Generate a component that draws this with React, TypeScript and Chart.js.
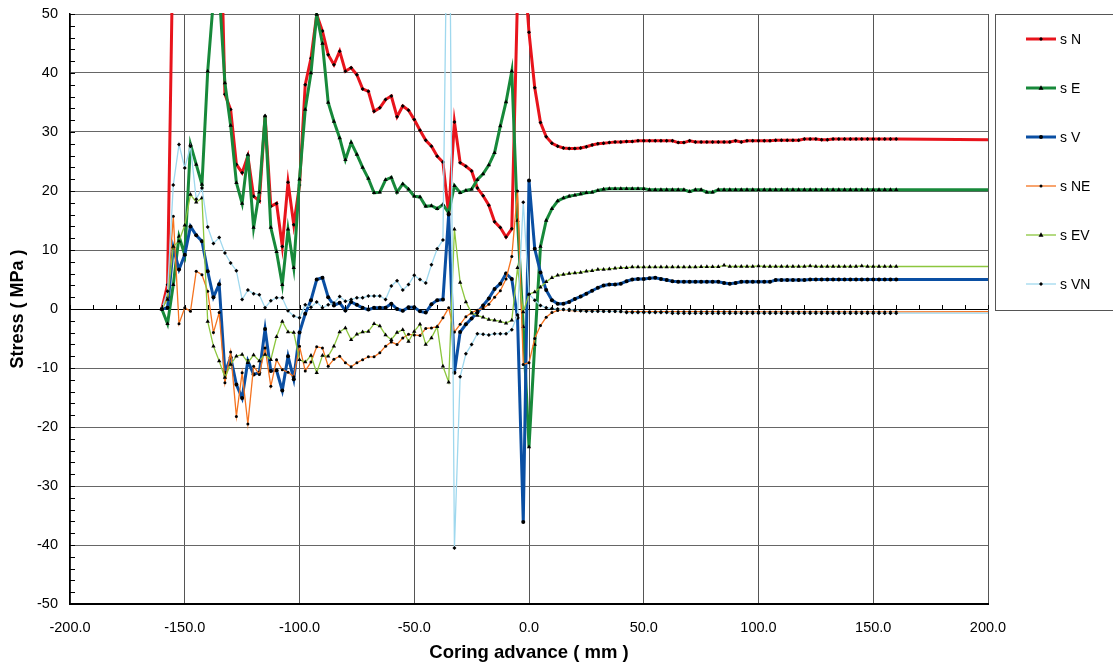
import React, { useEffect, useRef } from 'react';
import { Chart, registerables } from 'chart.js';

Chart.register(...registerables);

// Coring advance (mm) – shared by all series; last point (200) drawn without a marker
const xValues = [
  -160, -157.5, -155, -152.5, -150, -147.5, -145, -142.5, -140, -137.5,
  -135, -132.5, -130, -127.5, -125, -122.5, -120, -117.5, -115, -112.5,
  -110, -107.5, -105, -102.5, -100, -97.5, -95, -92.5, -90, -87.5,
  -85, -82.5, -80, -77.5, -75, -72.5, -70, -67.5, -65, -62.5,
  -60, -57.5, -55, -52.5, -50, -47.5, -45, -42.5, -40, -37.5,
  -35, -32.5, -30, -27.5, -25, -22.5, -20, -17.5, -15, -12.5,
  -10, -7.5, -5, -2.5, 0, 2.5, 5, 7.5, 10, 12.5,
  15, 17.5, 20, 22.5, 25, 27.5, 30, 32.5, 35, 37.5,
  40, 42.5, 45, 47.5, 50, 52.5, 55, 57.5, 60, 62.5,
  65, 67.5, 70, 72.5, 75, 77.5, 80, 82.5, 85, 87.5,
  90, 92.5, 95, 97.5, 100, 102.5, 105, 107.5, 110, 112.5,
  115, 117.5, 120, 122.5, 125, 127.5, 130, 132.5, 135, 137.5,
  140, 142.5, 145, 147.5, 150, 152.5, 155, 157.5, 160, 200,
];

const sN = [
  0, 4.1, 65, 95, 115, 120, 118, 110, 100, 90,
  76, 36.4, 33.8, 24.5, 23.1, 25.9, 19.1, 18.3, 32.7, 17.4,
  17.9, 10.6, 21.5, 14.3, 21, 38, 42.5, 49.9, 47.1, 43.1,
  41.4, 43.7, 40.3, 40.9, 39.7, 37.3, 36.9, 33.5, 34.1, 35.5,
  36.1, 32.6, 34.4, 33.7, 32.1, 30.3, 28.6, 27.6, 25.9, 24.9,
  16.0, 31.7, 24.8, 24.2, 23.4, 20.5, 19.2, 17.6, 14.8, 13.8,
  12.2, 13.6, 53, 60, 46.9, 37.5, 31.6, 29.2, 28.1, 27.6,
  27.3, 27.2, 27.2, 27.3, 27.5, 27.8, 28.0, 28.1, 28.2, 28.3,
  28.3, 28.4, 28.4, 28.5, 28.5, 28.5, 28.5, 28.5, 28.5, 28.5,
  28.2, 28.2, 28.5, 28.3, 28.3, 28.3, 28.3, 28.3, 28.3, 28.3,
  28.5, 28.3, 28.5, 28.5, 28.5, 28.5, 28.5, 28.6, 28.6, 28.6,
  28.6, 28.6, 28.8, 28.8, 28.8, 28.7, 28.7, 28.8, 28.8, 28.8,
  28.8, 28.8, 28.8, 28.8, 28.8, 28.8, 28.8, 28.8, 28.8, 28.7,
];

const sE = [
  0, -2.5, 4.1, 12.3, 9.2, 27.9, 24.5, 21.1, 40.3, 52.5,
  54, 38.3, 31.1, 21.4, 17.9, 26.2, 13.8, 19.8, 32.7, 13.8,
  9.7, 4.1, 13.5, 7.0, 22, 33.8, 40, 49.9, 45, 35,
  31.8, 29.0, 25.3, 28.2, 26.2, 24.0, 22.1, 19.7, 19.8, 21.9,
  22.3, 19.8, 21.2, 20.3, 19.1, 19.0, 17.4, 17.5, 17.0, 17.7,
  16.3, 20.9, 19.7, 20.1, 20.3, 21.9, 22.9, 24.4, 26.5, 31,
  35.1, 40.3, 15, -3, -23.4, -6, 10.6, 15.0, 17.0, 18.3,
  18.8, 19.1, 19.3, 19.5, 19.7, 19.8, 20.1, 20.3, 20.4, 20.4,
  20.4, 20.4, 20.4, 20.4, 20.4, 20.2, 20.2, 20.2, 20.2, 20.2,
  20.2, 20.2, 19.9, 20.2, 20.2, 19.8, 19.8, 20.2, 20.2, 20.2,
  20.2, 20.2, 20.2, 20.2, 20.2, 20.2, 20.2, 20.2, 20.2, 20.2,
  20.2, 20.2, 20.2, 20.2, 20.2, 20.2, 20.2, 20.2, 20.2, 20.2,
  20.2, 20.2, 20.2, 20.2, 20.2, 20.2, 20.2, 20.2, 20.2, 20.2,
];

const sV = [
  0, 0.2, 10.4, 6.7, 9.2, 14.0, 12.5, 11.5, 6.4, 2.0,
  4.2, -10.8, -8.2, -12.8, -15.1, -8.8, -11.1, -10.8, -3.4, -10.5,
  -10.4, -13.8, -8.0, -11.9, -4, -0.8, 1.5, 5.0, 5.3, 2.0,
  0.6, 1.05, -0.25, 1.2, 0.7, 0.2, -0.1, 0.2, 0.2, 0.2,
  0.9, 0, -0.3, 0.3, 0.3, -0.4, -0.6, 0.8, 1.5, 1.6,
  16.0, -10.8, -3.9, -2.6, -1.6, -0.6, 0.6, 1.8, 3.4, 4.3,
  6.0, 5.1, -1.5, -36.1, 21.8, 10.2, 6.2, 3.2, 1.5, 0.9,
  0.9, 1.2, 1.7, 2.1, 2.6, 3.1, 3.6, 4.0, 4.15, 4.15,
  4.3, 4.7, 5.0, 5.1, 5.1, 5.2, 5.3, 5.1, 4.9, 4.7,
  4.6, 4.6, 4.6, 4.6, 4.6, 4.6, 4.6, 4.6, 4.4, 4.3,
  4.4, 4.6, 4.6, 4.6, 4.6, 4.6, 4.6, 4.9, 4.9, 4.9,
  4.9, 4.9, 4.9, 5.0, 5.0, 5.0, 5.0, 5.0, 5.0, 5.0,
  5.0, 5.0, 5.0, 5.0, 5.0, 5.0, 5.0, 5.0, 5.0, 5.0,
];

const sNE = [
  0, 2, 15.7, -2.5, 0.2, -0.4, 6.4, 5.8, 3, -4.0,
  -0.6, -12.5, -7.3, -18.2, -10.8, -19.5, -9.7, -11.1, -6.6, -13.1,
  -8.6, -10.3, -10.7, -11.5, -6.3, -10.5, -9, -6.4, -6.6, -9.7,
  -8.5, -8.0, -9.1, -9.8, -9.1, -8.6, -8.1, -8.1, -7.4, -6.3,
  -5.6, -6.0, -4.9, -4.3, -4.4, -4.5, -3.3, -3.2, -3.0, -1.5,
  0.2, -3.9, -2.6, -1.3, -0.6, -0.2, 0.1, 0.8, 2.0, 3.1,
  5.1, 8.9, 20.0, -9.4, -9.1, -5.0, -2.8, -1.4, -0.6, -0.25,
  -0.1, -0.25, -0.3, -0.3, -0.3, -0.35, -0.35, -0.4, -0.4, -0.4,
  -0.45, -0.45, -0.45, -0.45, -0.45, -0.45, -0.45, -0.45, -0.45, -0.45,
  -0.45, -0.45, -0.45, -0.45, -0.45, -0.45, -0.45, -0.45, -0.45, -0.45,
  -0.5, -0.5, -0.5, -0.5, -0.5, -0.5, -0.5, -0.5, -0.5, -0.5,
  -0.5, -0.5, -0.5, -0.5, -0.5, -0.5, -0.5, -0.5, -0.5, -0.5,
  -0.5, -0.5, -0.5, -0.5, -0.5, -0.5, -0.5, -0.5, -0.5, -0.45,
];

const sEV = [
  0, 1.6, 10.6, 11.5, 14.2, 19.4, 18.1, 18.8, -2.1, -6.3,
  -8.8, -11.6, -9.4, -8.0, -7.7, -9.1, -7.8, -8.8, -7.7, -8.6,
  -4.7, -2.1, -3.9, -4.0, -8.6, -9.0, -7.9, -10.8, -7.9, -8.0,
  -6.3, -3.9, -3.2, -5.2, -4.3, -3.9, -3.8, -2.5, -2.9, -4.4,
  -5.2, -4.0, -3.5, -5.5, -3.8, -2.6, -6.0, -4.9, -3.0, -9.7,
  -12.4, 13.5, 4.5, 1.2, -0.7, -1.1, -1.4, -1.8, -1.9, -2.1,
  -2.4, -1.9, 7.0, -0.5, 2.5, 2.9, 3.7, 4.6, 5.3, 5.7,
  5.85, 6.0, 6.1, 6.2, 6.4, 6.5, 6.7, 6.7, 6.8, 6.9,
  7.0, 7.0, 7.1, 7.1, 7.1, 7.1, 7.1, 7.1, 7.1, 7.1,
  7.1, 7.1, 7.1, 7.1, 7.15, 7.15, 7.15, 7.15, 7.4, 7.2,
  7.2, 7.2, 7.2, 7.2, 7.3, 7.2, 7.2, 7.2, 7.2, 7.2,
  7.2, 7.2, 7.2, 7.3, 7.2, 7.2, 7.2, 7.2, 7.2, 7.2,
  7.2, 7.2, 7.3, 7.2, 7.2, 7.2, 7.2, 7.2, 7.2, 7.2,
];

const sVN = [
  0, 3, 21.0, 27.9, 23.9, 27.6, 18.6, 20.5, 13.9, 11.1,
  12.1, 9.5, 7.8, 6.5, 1.6, 3.2, 2.6, 2.4, 0.2, 1.4,
  1.9, 1.9, -0.3, -1.2, -1.5, 0.7, 0.3, 1.2, 0.2, 0.7,
  1.0, 2.1, 1.3, 1.6, 1.9, 1.9, 2.2, 2.2, 2.2, 1.6,
  3.9, 4.8, 3.2, 4.15, 5.7, 5.0, 4.4, 7.5, 10.2, 11.7,
  90, -40.5, -11.5, -7.6, -6, -4.2, -4.3, -4.4, -4.2, -4.2,
  -4.2, -3.5, -1, 18.1, 2.5, 1.5, 0.6, 0.2, 0.1, 0,
  -0.1, -0.1, -0.2, -0.3, -0.4, -0.4, -0.4, -0.4, -0.4, -0.4,
  -0.4, -0.6, -0.6, -0.6, -0.6, -0.6, -0.6, -0.6, -0.6, -0.7,
  -0.7, -0.7, -0.7, -0.7, -0.7, -0.7, -0.7, -0.7, -0.7, -0.7,
  -0.7, -0.7, -0.7, -0.7, -0.7, -0.7, -0.7, -0.7, -0.7, -0.7,
  -0.7, -0.7, -0.7, -0.7, -0.7, -0.7, -0.7, -0.7, -0.7, -0.7,
  -0.7, -0.7, -0.7, -0.7, -0.7, -0.7, -0.7, -0.7, -0.7, -0.7,
];

const seriesLabels = ['s N', 's E', 's V', 's NE', 's EV', 's VN'];
const xTicks = [-200, -150, -100, -50, 0, 50, 100, 150, 200];
const yTicks = [-50, -40, -30, -20, -10, 0, 10, 20, 30, 40, 50];

const FONT = "'Liberation Sans', Arial, sans-serif";

const styles = [
  { color: '#e8141c', width: 3, point: 'rectRot', r: 2 },
  { color: '#17893a', width: 3, point: 'triangle', r: 2.5 },
  { color: '#0a4fa3', width: 3, point: 'circle', r: 2 },
  { color: '#f5731f', width: 1.3, point: 'circle', r: 1.5 },
  { color: '#8cc63e', width: 1.3, point: 'triangle', r: 2.5 },
  { color: '#9fd8ee', width: 1.3, point: 'rectRot', r: 2 },
];

const decorPlugin = {
  id: 'decor',
  afterDraw(chart: any) {
    const { ctx, chartArea, scales } = chart;
    const xs = scales.x;
    const ys = scales.y;
    ctx.save();
    ctx.strokeStyle = '#000';
    ctx.lineWidth = 1;
    for (let v = -50; v <= 50; v += 2) {
      const y = Math.round(ys.getPixelForValue(v)) + 0.5;
      ctx.beginPath();
      ctx.moveTo(chartArea.left, y);
      ctx.lineTo(chartArea.left + 5, y);
      ctx.stroke();
    }
    const y0 = Math.round(ys.getPixelForValue(0));
    for (let v = -200; v <= 200; v += 10) {
      const x = Math.round(xs.getPixelForValue(v)) + 0.5;
      ctx.beginPath();
      ctx.moveTo(x, y0 - 4);
      ctx.lineTo(x, y0);
      ctx.stroke();
    }
    ctx.restore();
  },
};

function drawMarker(ctx: CanvasRenderingContext2D, style: string, x: number, y: number, r: number) {
  ctx.fillStyle = '#000';
  ctx.beginPath();
  if (style === 'triangle') {
    ctx.moveTo(x, y - r * 1.1);
    ctx.lineTo(x + r, y + r * 0.7);
    ctx.lineTo(x - r, y + r * 0.7);
    ctx.closePath();
  } else if (style === 'rectRot') {
    ctx.moveTo(x, y - r);
    ctx.lineTo(x + r, y);
    ctx.lineTo(x, y + r);
    ctx.lineTo(x - r, y);
    ctx.closePath();
  } else {
    ctx.arc(x, y, r, 0, Math.PI * 2);
  }
  ctx.fill();
}

const legendPlugin = {
  id: 'boxLegend',
  afterDraw(chart: any) {
    const { ctx } = chart;
    ctx.save();
    ctx.fillStyle = '#fff';
    ctx.fillRect(995, 14, 130, 297);
    ctx.strokeStyle = '#555';
    ctx.lineWidth = 1;
    ctx.strokeRect(995.5, 14.5, 130, 296);
    chart.data.datasets.forEach((ds: any, k: number) => {
      const st = styles[k];
      const y = 39 + 49 * k;
      ctx.strokeStyle = st.color;
      ctx.lineWidth = st.width;
      ctx.beginPath();
      ctx.moveTo(1026, y);
      ctx.lineTo(1056, y);
      ctx.stroke();
      drawMarker(ctx, st.point, 1041, y, st.r);
      ctx.fillStyle = '#000';
      ctx.font = `14px ${FONT}`;
      ctx.textBaseline = 'middle';
      ctx.textAlign = 'left';
      ctx.fillText(ds.label, 1060, y + 1);
    });
    ctx.restore();
  },
};

export default function App() {
  const ref = useRef<HTMLCanvasElement>(null);

  useEffect(() => {
    if (!ref.current) return;
    const last = xValues.length - 1;
    const series = [sN, sE, sV, sNE, sEV, sVN];
    const datasets = series.map((vals, k) => {
      const st = styles[k];
      return {
        label: seriesLabels[k],
        data: xValues.map((x, i) => ({ x, y: vals[i] })),
        borderColor: st.color,
        backgroundColor: st.color,
        borderWidth: st.width,
        pointStyle: st.point,
        pointRadius: (c: any) => (c.dataIndex === last ? 0 : st.r),
        pointBackgroundColor: '#000',
        pointBorderColor: '#000',
        pointBorderWidth: 0,
        tension: 0,
        fill: false,
        order: 5 - k,
        clip: 1,
      };
    });

    const chart = new Chart(ref.current, {
      type: 'line',
      data: { datasets } as any,
      options: {
        responsive: false,
        animation: false,
        events: [],
        layout: { padding: { top: 14, right: 125, bottom: 0, left: 0 } },
        plugins: {
          legend: { display: false },
          tooltip: { enabled: false },
          title: { display: false },
        },
        scales: {
          x: {
            type: 'linear',
            min: -200,
            max: 200,
            afterBuildTicks: (s: any) => {
              s.ticks = xTicks.map((v) => ({ value: v }));
            },
            afterFit: (s: any) => {
              s.height = 60;
              s.paddingLeft = 0;
              s.paddingRight = 0;
            },
            ticks: {
              callback: (v: any) => Number(v).toFixed(1),
              font: { family: FONT, size: 14.5 },
              color: '#000',
              padding: 15,
              maxRotation: 0,
              autoSkip: false,
            },
            grid: {
              color: '#555',
              lineWidth: 1,
              drawTicks: false,
            },
            border: { display: true, color: '#000', width: 2 },
            title: {
              display: true,
              text: 'Coring advance ( mm )',
              font: { family: FONT, size: 18.5, weight: 'bold' },
              color: '#000',
              padding: { top: 0, bottom: 0 },
            },
          },
          y: {
            type: 'linear',
            min: -50,
            max: 50,
            afterBuildTicks: (s: any) => {
              s.ticks = yTicks.map((v) => ({ value: v }));
            },
            afterFit: (s: any) => {
              s.width = 70;
              s.paddingTop = 0;
              s.paddingBottom = 0;
            },
            ticks: {
              callback: (v: any) => String(v),
              font: { family: FONT, size: 14.5 },
              color: '#000',
              padding: 12,
              autoSkip: false,
            },
            grid: {
              color: (c: any) => (c.tick && c.tick.value === 0 ? '#000' : '#666'),
              lineWidth: 1,
              drawTicks: false,
            },
            border: { display: true, color: '#000', width: 1.5 },
            title: {
              display: true,
              text: 'Stress ( MPa )',
              font: { family: FONT, size: 18, weight: 'bold' },
              color: '#000',
              padding: { top: 7, bottom: 0 },
            },
          },
        },
      } as any,
      plugins: [decorPlugin, legendPlugin],
    });

    return () => chart.destroy();
  }, []);

  return (
    <div style={{ position: 'fixed', left: 0, top: 0, width: 1113, height: 664, background: '#fff' }}>
      <canvas ref={ref} width={1113} height={664} style={{ width: 1113, height: 664, display: 'block' }} />
    </div>
  );
}
